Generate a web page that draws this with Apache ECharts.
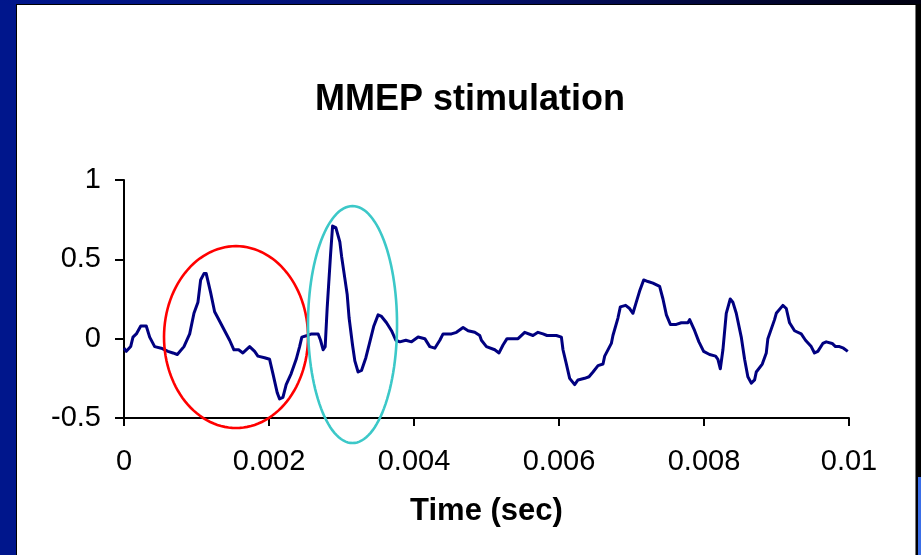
<!DOCTYPE html>
<html>
<head>
<meta charset="utf-8">
<title>MMEP stimulation</title>
<script src="https://cdn.jsdelivr.net/npm/echarts@6/dist/echarts.min.js"></script>
<style>
  html, body { margin: 0; padding: 0; width: 921px; height: 555px; overflow: hidden; background: #000; }
  #leftBand { position: absolute; left: 0; top: 0; width: 16px; height: 555px; background: #00168c; }
  #topBand { position: absolute; left: 0; top: 0; width: 921px; height: 4px;
             background: linear-gradient(to right, #00168c 0%, #041070 50%, #000010 100%); }
  #paper { position: absolute; left: 17px; top: 5px; width: 898px; height: 550px; background: #fff;
           border-right: 1px solid #777; }
  #cornerBlue { position: absolute; left: 918px; top: 477px; width: 3px; height: 78px; background: #3a6ee8; }
  #chart { position: absolute; left: 0; top: 0; width: 921px; height: 555px; }
</style>
</head>
<body>
<div id="leftBand"></div>
<div id="topBand"></div>
<div id="paper"></div>
<div id="cornerBlue"></div>
<div id="chart"></div>
<script>
// Sample times (milliseconds) and recorded amplitude of the evoked potential
const timeMs = [
  0.000, 0.032, 0.092, 0.124, 0.170, 0.231, 0.307, 0.354, 0.423, 0.514,
  0.606, 0.675, 0.735, 0.827, 0.906, 0.965, 1.020, 1.057, 1.103, 1.134,
  1.195, 1.250, 1.296, 1.388, 1.457, 1.516, 1.581, 1.640, 1.733, 1.802,
  1.847, 1.939, 2.008, 2.054, 2.113, 2.146, 2.192, 2.237, 2.306, 2.375,
  2.422, 2.453, 2.527, 2.587, 2.678, 2.711, 2.747, 2.775, 2.802, 2.849,
  2.877, 2.922, 2.977, 3.001, 3.046, 3.078, 3.105, 3.152, 3.184, 3.229,
  3.276, 3.336, 3.391, 3.446, 3.505, 3.552, 3.621, 3.690, 3.749, 3.804,
  3.887, 3.966, 4.057, 4.149, 4.218, 4.287, 4.356, 4.401, 4.517, 4.586,
  4.677, 4.746, 4.838, 4.907, 4.930, 4.999, 5.114, 5.173, 5.228, 5.283,
  5.435, 5.527, 5.641, 5.710, 5.779, 5.835, 5.895, 5.964, 6.033, 6.055,
  6.102, 6.147, 6.216, 6.262, 6.354, 6.414, 6.469, 6.538, 6.607, 6.630,
  6.722, 6.744, 6.813, 6.846, 6.919, 6.974, 7.020, 7.066, 7.112, 7.168,
  7.227, 7.296, 7.388, 7.434, 7.481, 7.536, 7.618, 7.687, 7.778, 7.802,
  7.871, 7.930, 7.995, 8.077, 8.160, 8.192, 8.225, 8.261, 8.307, 8.362,
  8.398, 8.445, 8.514, 8.560, 8.605, 8.652, 8.698, 8.721, 8.804, 8.859,
  8.881, 8.973, 8.997, 9.088, 9.135, 9.180, 9.249, 9.341, 9.400, 9.479,
  9.524, 9.570, 9.639, 9.686, 9.768, 9.814, 9.869, 9.924, 9.983
];
const amplitude = [
  -0.06, -0.08, -0.05, 0.01, 0.03, 0.08, 0.08, 0.01, -0.05, -0.06,
  -0.08, -0.09, -0.10, -0.05, 0.03, 0.16, 0.23, 0.37, 0.41, 0.41,
  0.29, 0.17, 0.13, 0.05, -0.01, -0.07, -0.07, -0.09, -0.05, -0.08,
  -0.11, -0.12, -0.13, -0.22, -0.34, -0.38, -0.37, -0.29, -0.22, -0.13,
  -0.05, 0.01, 0.02, 0.03, 0.03, -0.01, -0.07, -0.05, 0.19, 0.53,
  0.71, 0.70, 0.61, 0.52, 0.38, 0.28, 0.13, -0.04, -0.14, -0.21,
  -0.20, -0.12, -0.02, 0.08, 0.15, 0.14, 0.10, 0.05, -0.01, -0.02,
  -0.01, -0.02, 0.01, 0.00, -0.05, -0.06, -0.01, 0.03, 0.03, 0.04,
  0.07, 0.05, 0.04, 0.02, -0.01, -0.05, -0.07, -0.09, -0.04, 0.00,
  0.00, 0.04, 0.02, 0.04, 0.03, 0.02, 0.02, 0.02, 0.01, -0.07,
  -0.16, -0.25, -0.29, -0.26, -0.25, -0.24, -0.21, -0.17, -0.16, -0.11,
  -0.03, 0.02, 0.13, 0.20, 0.21, 0.19, 0.16, 0.23, 0.30, 0.37,
  0.36, 0.35, 0.33, 0.25, 0.15, 0.09, 0.09, 0.10, 0.10, 0.12,
  0.05, -0.02, -0.08, -0.10, -0.11, -0.13, -0.19, -0.07, 0.16, 0.25,
  0.23, 0.16, 0.01, -0.13, -0.24, -0.28, -0.26, -0.21, -0.16, -0.09,
  0.00, 0.12, 0.16, 0.21, 0.19, 0.10, 0.05, 0.03, -0.01, -0.05,
  -0.09, -0.08, -0.03, -0.02, -0.03, -0.05, -0.05, -0.06, -0.08
];
// Axis ranges and tick steps
const xRange = { min: 0, max: 0.01, step: 0.002 };
const yRange = { min: -0.5, max: 1, step: 0.5 };

// Highlighted response windows (data units: seconds, amplitude)
const highlights = [
  { cx: 0.001545, cy: 0.01, rx: 0.000993, ry: 0.573, color: '#ff0000' },
  { cx: 0.003152, cy: 0.089, rx: 0.000614, ry: 0.747, color: '#3cc8c8' }
];

const seriesData = timeMs.map((t, i) => [t / 1000, amplitude[i]]);
const FONT = "'Liberation Sans', Arial, sans-serif";

const chart = echarts.init(document.getElementById('chart'), null, { renderer: 'canvas' });
chart.setOption({
  animation: false,
  backgroundColor: 'transparent',
  title: {
    text: 'MMEP stimulation',
    left: 465, top: 77, textAlign: 'center',
    textStyle: { fontFamily: FONT, fontWeight: 'bold', fontSize: 36, color: '#000' }
  },
  grid: { left: 124, right: 72, top: 180, bottom: 137 },
  xAxis: {
    type: 'value', min: xRange.min, max: xRange.max, interval: xRange.step,
    name: 'Time (sec)', nameLocation: 'middle', nameGap: 78,
    nameTextStyle: { fontFamily: FONT, fontWeight: 'bold', fontSize: 31, color: '#000' },
    axisLine: { onZero: false, lineStyle: { color: '#000', width: 2 } },
    axisTick: { show: true, inside: false, length: 8, lineStyle: { color: '#000', width: 2 } },
    axisLabel: {
      margin: 29, fontFamily: FONT, fontSize: 29, color: '#000',
      formatter: v => String(+v.toFixed(4))
    },
    splitLine: { show: false }
  },
  yAxis: {
    type: 'value', min: yRange.min, max: yRange.max, interval: yRange.step,
    axisLine: { show: true, lineStyle: { color: '#000', width: 2 } },
    axisTick: { show: true, inside: false, length: 9, lineStyle: { color: '#000', width: 2 } },
    axisLabel: {
      margin: 23, fontFamily: FONT, fontSize: 29, color: '#000',
      formatter: v => String(+v.toFixed(2))
    },
    splitLine: { show: false }
  },
  series: [{
    type: 'line',
    data: seriesData,
    showSymbol: false,
    symbol: 'none',
    lineStyle: { color: '#000080', width: 3, join: 'round' },
    z: 3
  }]
});

// Outline each highlighted window as an ellipse in pixel space
function ellipsePoints(h) {
  const c = chart.convertToPixel({ gridIndex: 0 }, [h.cx, h.cy]);
  const ex = chart.convertToPixel({ gridIndex: 0 }, [h.cx + h.rx, h.cy]);
  const ey = chart.convertToPixel({ gridIndex: 0 }, [h.cx, h.cy + h.ry]);
  const a = Math.abs(ex[0] - c[0]);
  const b = Math.abs(ey[1] - c[1]);
  const pts = [];
  for (let k = 0; k < 120; k++) {
    const th = (k / 120) * Math.PI * 2;
    pts.push([c[0] + a * Math.cos(th), c[1] + b * Math.sin(th)]);
  }
  return pts;
}
chart.setOption({
  graphic: highlights.map(h => ({
    type: 'polygon',
    shape: { points: ellipsePoints(h) },
    style: { fill: 'none', stroke: h.color, lineWidth: 2.6 },
    z: 10, silent: true
  }))
});
</script>
</body>
</html>
